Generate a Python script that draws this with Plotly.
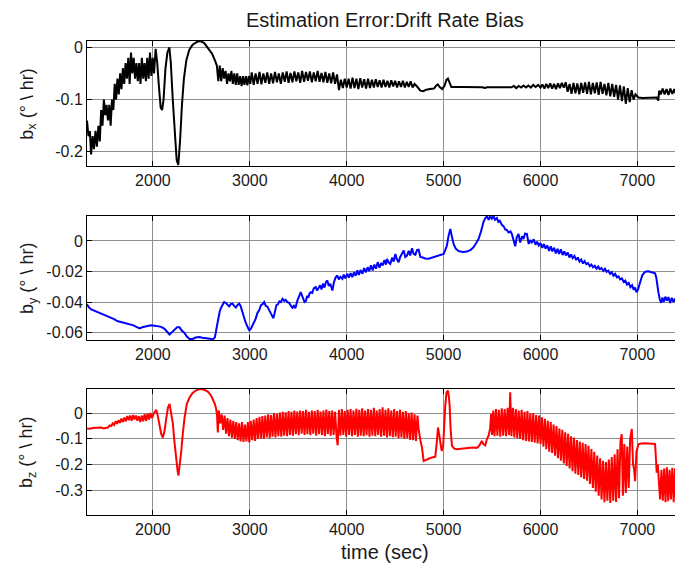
import plotly.graph_objects as go
from plotly.subplots import make_subplots

# estimation error samples, (time sec, value deg/hr)
bx = [
    (1320, -0.140), (1335, -0.170), (1350, -0.160), (1362, -0.205), (1378, -0.170), (1392, -0.195), (1408, -0.160), (1422, -0.190),
    (1438, -0.150), (1452, -0.180), (1466, -0.120), (1480, -0.150), (1494, -0.100), (1508, -0.130), (1522, -0.110), (1536, -0.140),
    (1550, -0.110), (1564, -0.150), (1578, -0.100), (1592, -0.120), (1606, -0.070), (1620, -0.100), (1634, -0.060), (1648, -0.090),
    (1662, -0.050), (1676, -0.080), (1690, -0.040), (1704, -0.070), (1718, -0.030), (1732, -0.060), (1746, -0.020), (1760, -0.070),
    (1774, -0.010), (1788, -0.050), (1802, -0.020), (1816, -0.060), (1830, -0.030), (1844, -0.065), (1858, -0.030), (1872, -0.070),
    (1886, -0.020), (1900, -0.060), (1914, -0.030), (1928, -0.065), (1942, -0.020), (1956, -0.060), (1970, -0.010), (1984, -0.055),
    (1998, -0.020), (2012, -0.050), (2028, -0.003), (2045, -0.030), (2060, -0.070), (2080, -0.115), (2095, -0.120), (2110, -0.100),
    (2130, -0.040), (2150, -0.010), (2170, 0.000), (2185, -0.030), (2205, -0.100), (2225, -0.170), (2245, -0.215), (2262, -0.225),
    (2280, -0.180), (2300, -0.110), (2320, -0.060), (2345, -0.025), (2375, -0.005), (2410, 0.005), (2450, 0.010), (2490, 0.012),
    (2530, 0.008), (2570, -0.002), (2610, -0.012), (2640, -0.025), (2660, -0.035), (2675, -0.065), (2690, -0.035), (2705, -0.065),
    (2720, -0.040), (2735, -0.060), (2750, -0.045), (2765, -0.070), (2780, -0.050), (2795, -0.065), (2810, -0.045), (2825, -0.070),
    (2840, -0.050), (2855, -0.072), (2870, -0.050), (2885, -0.072), (2900, -0.055), (2915, -0.074), (2930, -0.055), (2945, -0.072),
    (2960, -0.055), (2975, -0.073), (2990, -0.055), (3005, -0.070),
    (3020, -0.048), (3040, -0.072), (3060, -0.050), (3080, -0.070), (3100, -0.047), (3120, -0.071), (3140, -0.050), (3160, -0.068),
    (3180, -0.048), (3200, -0.070), (3220, -0.050), (3240, -0.069), (3260, -0.047), (3280, -0.067), (3300, -0.050), (3320, -0.070),
    (3340, -0.048), (3360, -0.066), (3380, -0.046), (3400, -0.068), (3420, -0.049), (3440, -0.067), (3460, -0.046), (3480, -0.065),
    (3500, -0.048), (3520, -0.068), (3540, -0.045), (3560, -0.066), (3580, -0.047), (3600, -0.064), (3620, -0.046), (3640, -0.067),
    (3660, -0.048), (3680, -0.065), (3700, -0.045), (3720, -0.066), (3740, -0.049), (3760, -0.067), (3780, -0.047), (3800, -0.068),
    (3820, -0.050), (3840, -0.069), (3860, -0.048), (3880, -0.070), (3900, -0.052), (3920, -0.082), (3940, -0.062), (3960, -0.078),
    (3980, -0.060), (4000, -0.077), (4020, -0.060), (4040, -0.079), (4060, -0.058), (4080, -0.078), (4100, -0.060), (4120, -0.080),
    (4140, -0.059), (4160, -0.077), (4180, -0.061), (4200, -0.079), (4220, -0.060), (4240, -0.078), (4260, -0.062), (4280, -0.077),
    (4300, -0.061), (4320, -0.076), (4340, -0.063), (4360, -0.077), (4380, -0.062), (4400, -0.076), (4420, -0.064), (4440, -0.077),
    (4460, -0.063), (4480, -0.075), (4500, -0.064), (4520, -0.077), (4540, -0.065), (4560, -0.076), (4580, -0.064), (4600, -0.077),
    (4620, -0.066), (4640, -0.076), (4660, -0.065), (4680, -0.077), (4700, -0.070), (4730, -0.076), (4760, -0.083), (4790, -0.084),
    (4820, -0.081), (4860, -0.080), (4900, -0.079), (4925, -0.073), (4940, -0.071), (4960, -0.076), (4985, -0.080), (5010, -0.073),
    (5030, -0.062), (5045, -0.060), (5060, -0.068), (5080, -0.076), (5200, -0.076), (5400, -0.0765), (5425, -0.078), (5450, -0.0765),
    (5600, -0.0765), (5700, -0.0765), (5725, -0.074), (5750, -0.078), (5775, -0.074), (5800, -0.077), (5825, -0.073), (5850, -0.077),
    (5875, -0.073), (5900, -0.077), (5925, -0.072), (5950, -0.076), (5975, -0.072), (6000, -0.077), (6020, -0.071), (6040, -0.079),
    (6060, -0.070), (6080, -0.078), (6100, -0.069), (6120, -0.079), (6140, -0.070), (6160, -0.080), (6180, -0.069), (6200, -0.078),
    (6220, -0.068), (6240, -0.077), (6260, -0.067), (6280, -0.085), (6300, -0.070), (6320, -0.089), (6340, -0.068), (6360, -0.088),
    (6380, -0.069), (6400, -0.090), (6420, -0.068), (6440, -0.087), (6460, -0.067), (6480, -0.089), (6500, -0.066), (6520, -0.090),
    (6540, -0.068), (6560, -0.088), (6580, -0.067), (6600, -0.091), (6620, -0.066), (6640, -0.089), (6660, -0.070), (6680, -0.092),
    (6700, -0.068), (6720, -0.094), (6740, -0.070), (6760, -0.095), (6780, -0.072), (6800, -0.100), (6820, -0.073), (6840, -0.103),
    (6860, -0.075), (6880, -0.108), (6900, -0.078), (6920, -0.105), (6940, -0.082), (6960, -0.100), (6980, -0.090), (7010, -0.096),
    (7050, -0.097), (7100, -0.097), (7150, -0.097), (7200, -0.096), (7215, -0.102), (7225, -0.083), (7240, -0.090), (7260, -0.079),
    (7280, -0.090), (7300, -0.080), (7320, -0.091), (7340, -0.079), (7360, -0.089), (7380, -0.080), (7400, -0.091), (7420, -0.079),
    (7440, -0.090), (7460, -0.082),
]

by = [
    (1320, -0.0415), (1340, -0.0435), (1364, -0.0448), (1390, -0.0455), (1410, -0.0460), (1433, -0.0468), (1460, -0.0472), (1480, -0.0480),
    (1502, -0.0484), (1530, -0.0490), (1550, -0.0498), (1570, -0.0505), (1600, -0.0512), (1620, -0.0520), (1639, -0.0526), (1670, -0.0530),
    (1700, -0.0535), (1742, -0.0542), (1770, -0.0548), (1800, -0.0552), (1830, -0.0562), (1863, -0.0572), (1890, -0.0565), (1920, -0.0560),
    (1948, -0.0556), (1980, -0.0552), (2017, -0.0554), (2050, -0.0556), (2086, -0.0562), (2120, -0.0575), (2150, -0.0598), (2172, -0.0612),
    (2200, -0.0595), (2223, -0.0582), (2250, -0.0565), (2275, -0.0565), (2300, -0.0588), (2326, -0.0602), (2350, -0.0625), (2378, -0.0641),
    (2410, -0.0642), (2440, -0.0632), (2481, -0.0628), (2510, -0.0633), (2550, -0.0635), (2590, -0.0640), (2619, -0.0645), (2640, -0.0630),
    (2660, -0.0560), (2675, -0.0500), (2690, -0.0460), (2705, -0.0435), (2718, -0.0420), (2735, -0.0400), (2752, -0.0405), (2770, -0.0415),
    (2787, -0.0428), (2805, -0.0412), (2821, -0.0410), (2838, -0.0425), (2856, -0.0435), (2875, -0.0418), (2890, -0.0410), (2905, -0.0425),
    (2920, -0.0460), (2938, -0.0505), (2955, -0.0530), (2975, -0.0560), (2995, -0.0585), (3010, -0.0575), (3030, -0.0550), (3045, -0.0528),
    (3060, -0.0510), (3080, -0.0470), (3096, -0.0455), (3115, -0.0420), (3130, -0.0415), (3148, -0.0400), (3165, -0.0425), (3182, -0.0430),
    (3199, -0.0455), (3215, -0.0470), (3230, -0.0490), (3244, -0.0505), (3260, -0.0460), (3275, -0.0420), (3290, -0.0415), (3305, -0.0395),
    (3320, -0.0400), (3337, -0.0378), (3355, -0.0392), (3370, -0.0385), (3388, -0.0400), (3405, -0.0405), (3420, -0.0420), (3440, -0.0438),
    (3455, -0.0425), (3470, -0.0440), (3491, -0.0390), (3505, -0.0365), (3515, -0.0340), (3526, -0.0335), (3540, -0.0360), (3555, -0.0380),
    (3565, -0.0400), (3577, -0.0395), (3592, -0.0360), (3605, -0.0370), (3615, -0.0345), (3629, -0.0335), (3645, -0.0340), (3660, -0.0310),
    (3680, -0.0302), (3695, -0.0325), (3710, -0.0310), (3725, -0.0290), (3740, -0.0318), (3755, -0.0280), (3770, -0.0305), (3785, -0.0270),
    (3800, -0.0259), (3815, -0.0295), (3830, -0.0280), (3852, -0.0324), (3868, -0.0270), (3885, -0.0240), (3904, -0.0226), (3918, -0.0252),
    (3935, -0.0235), (3955, -0.0248), (3970, -0.0220), (3985, -0.0245), (4007, -0.0215), (4022, -0.0240), (4040, -0.0210), (4058, -0.0237),
    (4075, -0.0205), (4092, -0.0228), (4110, -0.0193), (4125, -0.0222), (4142, -0.0190), (4162, -0.0215), (4180, -0.0178), (4198, -0.0205),
    (4216, -0.0172), (4232, -0.0198), (4250, -0.0160), (4268, -0.0193), (4285, -0.0155), (4302, -0.0182), (4320, -0.0139), (4338, -0.0175),
    (4355, -0.0145), (4371, -0.0160), (4390, -0.0125), (4405, -0.0155), (4416, -0.0117), (4432, -0.0140), (4450, -0.0150), (4468, -0.0110),
    (4485, -0.0135), (4502, -0.0085), (4518, -0.0120), (4536, -0.0139), (4552, -0.0105), (4570, -0.0078), (4588, -0.0063), (4605, -0.0105),
    (4622, -0.0096), (4640, -0.0065), (4655, -0.0095), (4674, -0.0048), (4690, -0.0085), (4708, -0.0091), (4725, -0.0060), (4742, -0.0057),
    (4760, -0.0105), (4777, -0.0107), (4810, -0.0115), (4845, -0.0117), (4880, -0.0110), (4910, -0.0108), (4931, -0.0102), (4960, -0.0098),
    (4985, -0.0088), (5000, -0.0085), (5020, -0.0055), (5034, -0.0030), (5050, 0.0030), (5069, 0.0078), (5085, 0.0030), (5103, -0.0020),
    (5125, -0.0050), (5155, -0.0067), (5200, -0.0072), (5241, -0.0070), (5280, -0.0058), (5309, -0.0041), (5335, -0.0015), (5361, 0.0013),
    (5385, 0.0060), (5400, 0.0105), (5412, 0.0125), (5430, 0.0150), (5447, 0.0160), (5465, 0.0138), (5480, 0.0162), (5498, 0.0145),
    (5515, 0.0163), (5530, 0.0138), (5550, 0.0150), (5565, 0.0125), (5580, 0.0132), (5601, 0.0105), (5620, 0.0095), (5635, 0.0075),
    (5653, 0.0072), (5670, 0.0055), (5690, 0.0062), (5704, 0.0046), (5720, 0.0010), (5739, -0.0035), (5755, 0.0025), (5773, 0.0046),
    (5790, -0.0010), (5810, 0.0030), (5825, 0.0013), (5840, 0.0048), (5859, 0.0046), (5878, -0.0020), (5893, 0.0005), (5910, -0.0010),
    (5930, 0.0010), (5948, -0.0025), (5965, -0.0005), (5982, -0.0030), (6000, -0.0015), (6018, -0.0045), (6035, -0.0020), (6052, -0.0050),
    (6070, -0.0030), (6088, -0.0065), (6105, -0.0035), (6122, -0.0068), (6140, -0.0045), (6158, -0.0082), (6175, -0.0052), (6192, -0.0085),
    (6210, -0.0055), (6228, -0.0092), (6245, -0.0068), (6262, -0.0095), (6280, -0.0075), (6298, -0.0108), (6315, -0.0088), (6332, -0.0112),
    (6350, -0.0098), (6368, -0.0125), (6385, -0.0108), (6402, -0.0135), (6420, -0.0122), (6438, -0.0148), (6455, -0.0132), (6472, -0.0152),
    (6490, -0.0145), (6508, -0.0165), (6525, -0.0155), (6542, -0.0172), (6560, -0.0162), (6578, -0.0182), (6595, -0.0168), (6612, -0.0185),
    (6630, -0.0178), (6648, -0.0195), (6665, -0.0182), (6682, -0.0202), (6700, -0.0195), (6718, -0.0215), (6735, -0.0205), (6752, -0.0228),
    (6770, -0.0215), (6788, -0.0238), (6805, -0.0232), (6822, -0.0252), (6840, -0.0245), (6858, -0.0268), (6875, -0.0260), (6892, -0.0285),
    (6910, -0.0275), (6928, -0.0302), (6945, -0.0290), (6962, -0.0320), (6976, -0.0305), (6990, -0.0335), (7005, -0.0320), (7020, -0.0290),
    (7035, -0.0250), (7050, -0.0225), (7070, -0.0208), (7090, -0.0200), (7113, -0.0198), (7140, -0.0202), (7165, -0.0205), (7182, -0.0212),
    (7195, -0.0240), (7205, -0.0300), (7216, -0.0335), (7230, -0.0380), (7245, -0.0405), (7258, -0.0370), (7272, -0.0400), (7288, -0.0365),
    (7305, -0.0390), (7320, -0.0367), (7338, -0.0405), (7355, -0.0372), (7372, -0.0400), (7388, -0.0378), (7405, -0.0410), (7420, -0.0395),
    (7435, -0.0425), (7450, -0.0405), (7460, -0.0455),
]

bz = [
    (1320, -0.060), (1350, -0.061), (1380, -0.058), (1401, -0.057), (1430, -0.058), (1450, -0.055), (1469, -0.056), (1490, -0.060),
    (1510, -0.058), (1536, -0.056), (1555, -0.048), (1570, -0.050), (1585, -0.040), (1600, -0.046), (1615, -0.032), (1630, -0.042),
    (1645, -0.028), (1660, -0.038), (1675, -0.022), (1690, -0.035), (1705, -0.018), (1720, -0.032), (1735, -0.012), (1750, -0.028),
    (1765, -0.010), (1780, -0.030), (1795, -0.008), (1810, -0.025), (1825, -0.010), (1840, -0.030), (1855, -0.012), (1870, -0.035),
    (1885, -0.010), (1900, -0.032), (1915, -0.005), (1930, -0.030), (1945, -0.002), (1960, -0.025), (1975, 0.000), (1990, -0.020),
    (2005, -0.005), (2020, 0.005), (2034, 0.013), (2050, -0.010), (2069, -0.050), (2085, -0.080), (2103, -0.095), (2120, -0.070),
    (2137, -0.023), (2155, 0.020), (2172, 0.035), (2188, 0.005), (2206, -0.040), (2222, -0.110), (2240, -0.180), (2255, -0.225),
    (2264, -0.242), (2278, -0.205), (2292, -0.150), (2310, -0.075), (2326, -0.020), (2350, 0.035), (2378, 0.060), (2410, 0.078),
    (2447, 0.088), (2475, 0.092), (2498, 0.093), (2530, 0.090), (2567, 0.083), (2600, 0.068), (2619, 0.055), (2640, 0.035),
    (2653, 0.016), (2662, -0.010), (2670, -0.075), (2680, 0.010), (2695, -0.040), (2710, -0.005), (2725, -0.065), (2740, -0.010),
    (2755, -0.080), (2770, -0.020), (2785, -0.090), (2800, -0.025), (2815, -0.095), (2830, -0.030), (2845, -0.100), (2860, -0.035),
    (2875, -0.105), (2890, -0.040), (2905, -0.110), (2920, -0.035), (2935, -0.112), (2950, -0.045), (2965, -0.110), (2980, -0.035),
    (2995, -0.114), (3010, -0.030), (3025, -0.105), (3040, -0.025), (3055, -0.108), (3070, -0.020), (3085, -0.100), (3100, -0.015),
    (3115, -0.098), (3130, -0.012), (3145, -0.100), (3160, -0.010), (3175, -0.095), (3190, -0.005), (3205, -0.097), (3220, -0.008),
    (3235, -0.092), (3250, 0.000), (3265, -0.095), (3280, -0.003), (3295, -0.090), (3310, 0.002), (3325, -0.092), (3340, 0.005),
    (3355, -0.088), (3370, 0.003), (3385, -0.090), (3400, 0.008), (3415, -0.085), (3430, 0.005), (3445, -0.088), (3460, 0.010),
    (3475, -0.082), (3490, 0.006), (3505, -0.086), (3520, 0.010), (3535, -0.080), (3550, 0.008), (3565, -0.085), (3580, 0.012),
    (3595, -0.082), (3610, 0.005), (3625, -0.086), (3640, 0.010), (3655, -0.080), (3670, 0.008), (3685, -0.088), (3700, 0.012),
    (3715, -0.082), (3730, 0.006), (3745, -0.085), (3760, 0.010), (3775, -0.090), (3790, 0.013), (3805, -0.082), (3820, 0.008),
    (3835, -0.088), (3850, 0.010), (3865, -0.085), (3880, 0.005), (3895, -0.090), (3907, -0.125), (3920, 0.012), (3935, -0.088),
    (3950, 0.015), (3965, -0.085), (3980, 0.008), (3995, -0.092), (4010, 0.012), (4025, -0.085), (4040, 0.015), (4055, -0.090),
    (4070, 0.010), (4085, -0.085), (4100, 0.016), (4115, -0.092), (4130, 0.012), (4145, -0.088), (4160, 0.018), (4175, -0.090),
    (4190, 0.010), (4205, -0.086), (4220, 0.015), (4235, -0.092), (4250, 0.012), (4265, -0.088), (4280, 0.020), (4295, -0.090),
    (4310, 0.010), (4325, -0.085), (4340, 0.015), (4355, -0.092), (4370, 0.022), (4385, -0.088), (4400, 0.012), (4415, -0.095),
    (4430, 0.018), (4445, -0.090), (4460, 0.010), (4475, -0.094), (4490, 0.015), (4505, -0.092), (4520, 0.008), (4535, -0.098),
    (4550, 0.012), (4565, -0.095), (4580, 0.005), (4595, -0.100), (4610, 0.008), (4625, -0.098), (4640, 0.000), (4655, -0.104),
    (4670, 0.002), (4685, -0.105), (4700, -0.005), (4715, -0.108), (4730, -0.010), (4742, -0.062), (4760, -0.105), (4777, -0.134),
    (4794, -0.186), (4820, -0.180), (4845, -0.177), (4880, -0.172), (4914, -0.169), (4928, -0.120), (4942, -0.056), (4955, -0.085),
    (4966, -0.114), (4980, -0.147), (4995, -0.130), (5005, -0.040), (5017, 0.029), (5030, 0.080), (5045, 0.087), (5055, 0.060),
    (5062, 0.029), (5072, -0.060), (5086, -0.127), (5110, -0.138), (5137, -0.140), (5180, -0.138), (5220, -0.136), (5258, -0.136),
    (5300, -0.134), (5340, -0.135), (5361, -0.130), (5380, -0.118), (5395, -0.108), (5410, -0.120), (5430, -0.125), (5448, -0.100),
    (5464, -0.088), (5480, -0.060), (5490, -0.004), (5500, -0.085), (5512, 0.010), (5525, -0.090), (5540, 0.015), (5555, -0.088),
    (5570, 0.012), (5585, -0.092), (5600, 0.018), (5615, -0.088), (5630, 0.015), (5645, -0.090), (5660, 0.020), (5675, -0.085),
    (5687, 0.080), (5700, -0.090), (5715, 0.020), (5730, -0.095), (5745, 0.015), (5760, -0.098), (5775, 0.010), (5790, -0.100),
    (5805, 0.012), (5820, -0.105), (5835, 0.005), (5850, -0.108), (5865, 0.008), (5880, -0.110), (5895, -0.002), (5910, -0.112),
    (5925, 0.000), (5940, -0.115), (5955, -0.008), (5970, -0.118), (5985, -0.010), (6000, -0.120), (6015, -0.017), (6030, -0.130),
    (6045, -0.022), (6060, -0.140), (6075, -0.030), (6090, -0.150), (6105, -0.035), (6120, -0.155), (6135, -0.045), (6150, -0.165),
    (6165, -0.050), (6180, -0.175), (6195, -0.060), (6210, -0.185), (6225, -0.065), (6240, -0.195), (6255, -0.075), (6270, -0.205),
    (6285, -0.080), (6300, -0.215), (6315, -0.090), (6330, -0.225), (6345, -0.095), (6360, -0.235), (6375, -0.105), (6390, -0.240),
    (6405, -0.110), (6420, -0.250), (6435, -0.115), (6450, -0.255), (6465, -0.120), (6480, -0.262), (6495, -0.127), (6510, -0.275),
    (6525, -0.140), (6540, -0.290), (6555, -0.150), (6570, -0.305), (6585, -0.165), (6600, -0.320), (6615, -0.175), (6630, -0.335),
    (6645, -0.185), (6660, -0.345), (6675, -0.190), (6690, -0.340), (6705, -0.180), (6720, -0.348), (6735, -0.170), (6750, -0.340),
    (6765, -0.160), (6780, -0.345), (6795, -0.140), (6810, -0.330), (6825, -0.110), (6838, -0.082), (6850, -0.320), (6865, -0.120),
    (6880, -0.310), (6895, -0.130), (6910, -0.290), (6925, -0.100), (6942, -0.062), (6955, -0.200), (6966, -0.218), (6976, -0.264),
    (6990, -0.150), (7010, -0.121), (7040, -0.118), (7080, -0.117), (7120, -0.118), (7150, -0.117), (7182, -0.120), (7190, -0.170),
    (7199, -0.231), (7210, -0.200), (7222, -0.300), (7234, -0.335), (7248, -0.220), (7262, -0.340), (7276, -0.215), (7290, -0.345),
    (7304, -0.210), (7318, -0.342), (7332, -0.220), (7346, -0.335), (7360, -0.212), (7374, -0.345), (7388, -0.215), (7402, -0.338),
    (7416, -0.205), (7430, -0.340), (7444, -0.210), (7460, -0.330),
]

x_ticks = [2000, 3000, 4000, 5000, 6000, 7000]
bx_ticks = [0, -0.1, -0.2]
by_ticks = [0, -0.02, -0.04, -0.06]
bz_ticks = [0, -0.1, -0.2, -0.3]

FONT = "Arial, Liberation Sans, Helvetica, sans-serif"
TXT = "#1a1a1a"

fig = make_subplots(rows=3, cols=1)

series = [(bx, "black", 1), (by, "blue", 2), (bz, "red", 3)]
for data, color, row in series:
    t = [p[0] for p in data]
    v = [p[1] for p in data]
    fig.add_trace(go.Scatter(x=t, y=v, mode="lines", line=dict(color=color, width=2),
                             showlegend=False), row=row, col=1)

axis_style = dict(showline=True, linecolor="black", linewidth=1, mirror="all",
                  ticks="inside", ticklen=5, tickcolor="black",
                  showgrid=True, gridcolor="#8f8f8f", gridwidth=1, zeroline=False,
                  tickfont=dict(family=FONT, size=16, color=TXT))

def fmt(vals):
    # matlab style labels: plain hyphen minus
    return ["0" if v == 0 else ("%g" % v) for v in vals]

y_setup = [
    (bx_ticks, [-0.227, 0.012], [0.7363, 1.0]),
    (by_ticks, [-0.0648, 0.0163], [0.3692, 0.6308]),
    (bz_ticks, [-0.395, 0.093], [0.0, 0.2658]),
]
for i, (tv, rng, dom) in enumerate(y_setup, start=1):
    fig.update_yaxes(range=rng, domain=dom, tickvals=tv, ticktext=fmt(tv), row=i, col=1, **axis_style)
    fig.update_xaxes(range=[1320, 7460], tickvals=x_ticks, ticktext=[str(v) for v in x_ticks],
                     row=i, col=1, **axis_style)

ylabels = ["b<sub>x</sub> (° \\ hr)", "b<sub>y</sub> (° \\ hr)", "b<sub>z</sub> (° \\ hr)"]
ycenters = [0.868, 0.50, 0.133]
for lab, yc in zip(ylabels, ycenters):
    fig.add_annotation(text=lab, textangle=-90, xref="paper", yref="paper",
                       x=-0.099, y=yc, xanchor="center", yanchor="middle", showarrow=False,
                       font=dict(family=FONT, size=18, color=TXT))

fig.add_annotation(text="Estimation Error:Drift Rate Bias", xref="paper", yref="paper",
                   x=0.5, y=1.044, xanchor="center", yanchor="middle", showarrow=False,
                   font=dict(family=FONT, size=20, color=TXT))
fig.add_annotation(text="time (sec)", xref="paper", yref="paper",
                   x=0.5, y=-0.078, xanchor="center", yanchor="middle", showarrow=False,
                   font=dict(family=FONT, size=20, color=TXT))

# page body has an 8px margin, so the figure is 8px smaller each way
fig.update_layout(width=675, height=557, margin=dict(l=79, r=1, t=33, b=50),
                  plot_bgcolor="white", paper_bgcolor="white")

fig.write_html("out.html")
